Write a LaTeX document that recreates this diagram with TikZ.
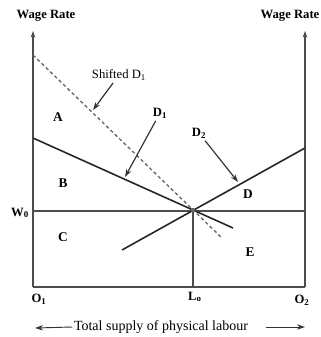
\documentclass[tikz,border=0pt]{standalone}
\usepackage{fontspec}
\setmainfont{Liberation Serif}
\usetikzlibrary{arrows.meta,positioning,calc}

\begin{document}
\begin{tikzpicture}[x=0.75pt,y=0.75pt,yscale=-1,xscale=1,
	axisline/.style={color=black!70, line width=0.8pt},
	demandline/.style={color=black!85, line width=1.2pt},
	pointer/.style={color=black!80, line width=0.9pt, shorten <=1pt, -{Stealth[length=6pt,width=4pt]}},
	areatext/.style={font=\bfseries\fontsize{10}{12}\selectfont},
	axistext/.style={font=\bfseries\fontsize{9.5}{11}\selectfont, inner sep=1pt},
	curvetext/.style={font=\fontsize{9.5}{11}\selectfont, inner sep=1pt}]
	%set diagram to the size of the reference
	\useasboundingbox (0,0) rectangle (321,337);
	
	% corners and points of the box
	\coordinate (O1) at (33,287);
	\coordinate (O2) at (305,287);
	\coordinate (leftTop) at (33,31);
	\coordinate (rightTop) at (305,31);
	\coordinate (W0left) at (33,211);
	\coordinate (W0right) at (305,211);
	\coordinate (Epoint) at (193,210);
	\coordinate (Lo) at (193,287);
	
	% ends of the demand curves
	\coordinate (D1start) at (33,138);
	\coordinate (D1end) at (233,228);
	\coordinate (SDstart) at (33,55);
	\coordinate (SDend) at (221,237);
	\coordinate (D2start) at (305,148);
	\coordinate (D2end) at (122,250);
	
	% arrow tips
	\coordinate (SDtip) at (93,110);
	\coordinate (D1tip) at (125,177);
	\coordinate (D2tip) at (238,182);
	\coordinate (bottomLeft) at (35,328);
	\coordinate (bottomRight) at (305,327);
	
	%Axes and box
	\draw [axisline, -{Stealth[length=5pt,width=3.5pt]}] (O1) -- (leftTop);
	\draw [axisline, -{Stealth[length=5pt,width=3.5pt]}] (O2) -- (rightTop);
	\draw [axisline] (O1) -- (O2);
	\draw [axisline] (W0left) -- (W0right);
	\draw [axisline] (Epoint) -- (Lo);
	
	%Demand curves
	\draw [demandline] (D1start) -- (D1end);
	\draw [demandline] (D2start) -- (D2end);
	\draw [demandline, color=black!60, line width=1pt, dash pattern={on 2.5pt off 2pt}] (SDstart) -- (SDend);
	\fill [black!60] (Epoint) circle (2.2);
	
	% Text Nodes
	\node [axistext] (wageLeft) at (46,16) {Wage Rate};
	\node [axistext] (wageRight) at (290,16) {Wage Rate};
	\node [axistext] (W0) at (20,213) {W\textsubscript{0}};
	\node [axistext] (O1text) at (39,299) {O\textsubscript{1}};
	\node [axistext] (O2text) at (302,300) {O\textsubscript{2}};
	\node [axistext] (Lotext) at (195,297) {L\textsubscript{o}};
	
	\node [areatext] (areaA) at (58,117) {A};
	\node [areatext] (areaB) at (63,183) {B};
	\node [areatext] (areaC) at (63,237) {C};
	\node [areatext] (areaD) at (248,194) {D};
	\node [areatext] (areaE) at (250,252) {E};
	
	\node [curvetext] (shiftedD1) at (119,75) {Shifted D\textsubscript{1}};
	\node [curvetext, font=\bfseries\fontsize{9.5}{11}\selectfont] (D1text) at (160,113) {D\textsubscript{1}};
	\node [curvetext, font=\bfseries\fontsize{9.5}{11}\selectfont] (D2text) at (199,133) {D\textsubscript{2}};
	
	\draw [pointer] (shiftedD1) -- (SDtip);
	\draw [pointer] (D1text) -- (D1tip);
	\draw [pointer] (D2text) -- (D2tip);
	
	% Bottom caption
	\node [curvetext, font=\fontsize{10.5}{12}\selectfont] (supply) at (161,327) {Total supply of physical labour};
	\draw [pointer, line width=0.7pt, shorten <=0pt] (supply.west) -- (bottomLeft);
	\draw [pointer, line width=0.7pt, shorten <=12pt] (supply.east) -- (bottomRight);
	
\end{tikzpicture}
\end{document}
